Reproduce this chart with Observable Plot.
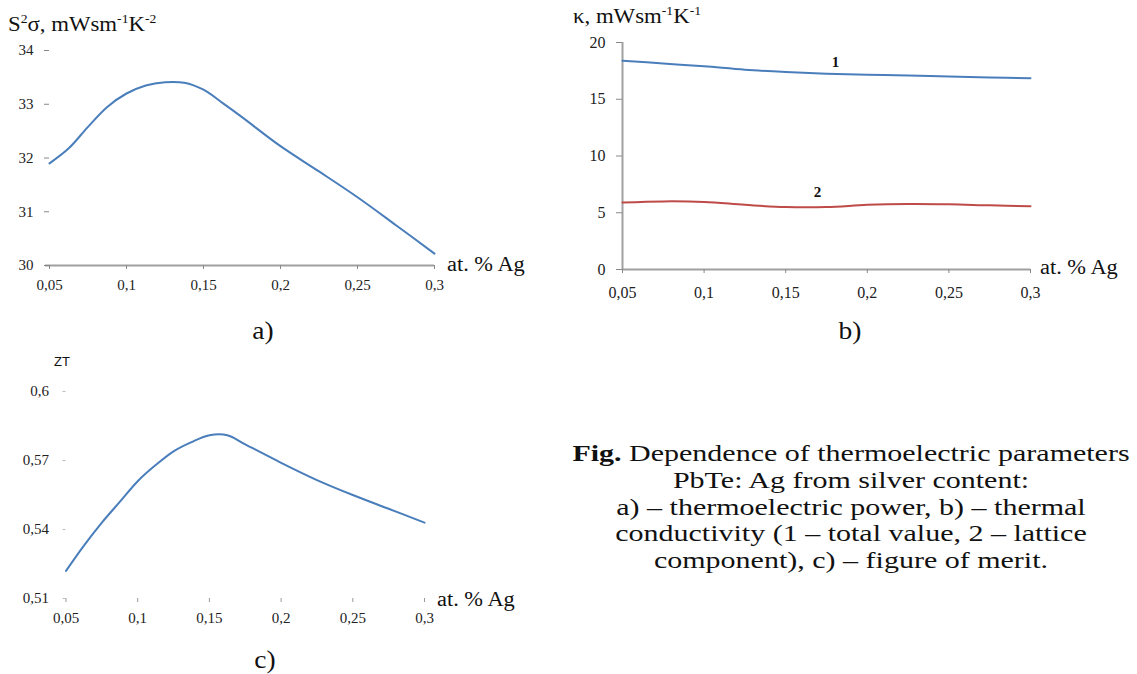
<!DOCTYPE html>
<html>
<head>
<meta charset="utf-8">
<script src="https://cdn.jsdelivr.net/npm/d3@7"></script>
<script src="https://cdn.jsdelivr.net/npm/@observablehq/plot@0.6"></script>
<style>
  body { margin: 0; background: #fff; }
  #root { position: relative; width: 1137px; height: 674px; overflow: hidden; font-family: "Liberation Serif", "Times New Roman", serif; color: #111; }
  .abs { position: absolute; white-space: nowrap; }
  .plot { position: absolute; }
  .ylab { font-size: 20px; transform: scaleX(1.14); transform-origin: left center; }
  .xlab { font-size: 20px; transform: scaleX(1.12); transform-origin: left center; }
  .panel { font-size: 25px; transform: translate(-50%, -50%) scaleX(1.1); }
  #caption { left: 571px; width: 560px; top: 440px; font-size: 24px; line-height: 26.8px; text-align: center; transform: scaleX(1.25); transform-origin: center; white-space: normal; }
</style>
</head>
<body>
<div id="root"></div>
<script>
// ---- data ----
const agA = [0.05, 0.0625, 0.075, 0.0875, 0.1, 0.1125, 0.125, 0.1375, 0.15, 0.1625, 0.175, 0.2, 0.225, 0.25, 0.275, 0.3];
const powerFactor = [31.90, 32.18, 32.58, 32.95, 33.2, 33.35, 33.41, 33.4, 33.27, 33.02, 32.76, 32.22, 31.75, 31.27, 30.75, 30.22];

const agB = [0.05, 0.075, 0.1, 0.125, 0.15, 0.175, 0.2, 0.225, 0.25, 0.275, 0.3];
const kappaTotal = [18.4, 18.15, 17.9, 17.6, 17.4, 17.25, 17.15, 17.1, 17.0, 16.92, 16.85];
const kappaLattice = [5.9, 6.0, 5.95, 5.7, 5.5, 5.5, 5.7, 5.78, 5.75, 5.65, 5.57];

const agC = [0.05, 0.0625, 0.075, 0.0875, 0.1, 0.1125, 0.125, 0.1375, 0.15, 0.1625, 0.175, 0.2, 0.225, 0.25, 0.275, 0.3];
const figureOfMerit = [0.522, 0.533, 0.543, 0.552, 0.561, 0.568, 0.574, 0.578, 0.581, 0.581, 0.577, 0.569, 0.5615, 0.555, 0.549, 0.543];

const xTicks = [0.05, 0.1, 0.15, 0.2, 0.25, 0.3];
const yTicksA = [30, 31, 32, 33, 34];
const yTicksB = [0, 5, 10, 15, 20];
const yTicksC = [0.51, 0.54, 0.57, 0.6];

const curveNames = ["1", "2"];
const curveLabelAg = [0.1805, 0.1695];
const curveLabelKappa = [18.3, 6.8];

// ---- helpers ----
const comma = d => String(d).replace(".", ",");
const blue = "#4a7ebb", red = "#be4b48", axisGray = "#a0a0a0";
const root = document.getElementById("root");
function place(node, left, top) {
  node.classList.add("plot");
  node.style.left = left + "px";
  node.style.top = top + "px";
  root.appendChild(node);
}
function text(html, cls, left, top) {
  const d = document.createElement("div");
  d.className = "abs " + cls;
  d.style.left = left + "px";
  d.style.top = top + "px";
  d.innerHTML = html;
  root.appendChild(d);
}
const baseStyle = { fontFamily: "Liberation Serif, serif", fontSize: "15px", color: "#222", background: "transparent", overflow: "visible" };

// ---- panel a ----
const tableA = agA.map((x, i) => ({ x, y: powerFactor[i] }));
const plotA = Plot.plot({
  width: 560, height: 300,
  marginLeft: 49, marginRight: 126, marginTop: 50, marginBottom: 35,
  style: baseStyle,
  x: { domain: [0.05, 0.3] },
  y: { domain: [30, 34] },
  marks: [
    Plot.ruleY([30], { stroke: axisGray, strokeWidth: 2, insetLeft: -4 }),
    Plot.axisX({ ticks: xTicks, tickFormat: comma, tickSize: 4, tickPadding: 10, stroke: "#888", label: null }),
    Plot.axisY({ ticks: yTicksA, tickFormat: d => String(d), tickSize: 5, tickPadding: 11, stroke: "#888", label: null }),
    Plot.line(tableA, { x: "x", y: "y", stroke: blue, strokeWidth: 2, curve: "catmull-rom" })
  ]
});
place(plotA, 0, 0);

// ---- panel b ----
const tableB = agB.flatMap((x, i) => [
  { x, y: kappaTotal[i], s: "total" },
  { x, y: kappaLattice[i], s: "lattice" }
]);
const labelsB = curveNames.map((t, i) => ({ t, x: curveLabelAg[i], y: curveLabelKappa[i] }));
const plotB = Plot.plot({
  width: 597, height: 310,
  marginLeft: 82, marginRight: 107, marginTop: 42, marginBottom: 41,
  style: { ...baseStyle, fontSize: "16px" },
  x: { domain: [0.05, 0.3] },
  y: { domain: [0, 20] },
  color: { domain: ["total", "lattice"], range: [blue, red] },
  marks: [
    Plot.ruleY([0], { stroke: axisGray, strokeWidth: 2 }),
    Plot.ruleX([0.05], { stroke: axisGray, strokeWidth: 2 }),
    Plot.axisX({ ticks: xTicks, tickFormat: comma, tickSize: 4, tickPadding: 13, stroke: "#888", label: null }),
    Plot.axisY({ ticks: yTicksB, tickFormat: d => String(d), tickSize: 6, tickPadding: 11, stroke: "#888", label: null }),
    Plot.line(tableB, { x: "x", y: "y", z: "s", stroke: "s", strokeWidth: 2, curve: "catmull-rom" }),
    Plot.text(labelsB, { x: "x", y: "y", text: "t", fontSize: 15, fontWeight: "bold", fill: "#111" })
  ]
});
place(plotB, 540, 0);

// ---- panel c ----
const tableC = agC.map((x, i) => ({ x, y: figureOfMerit[i] }));
const plotC = Plot.plot({
  width: 560, height: 310,
  marginLeft: 65.5, marginRight: 136, marginTop: 61, marginBottom: 42,
  style: baseStyle,
  x: { domain: [0.05, 0.3] },
  y: { domain: [0.51, 0.6] },
  marks: [
    Plot.axisX({ ticks: xTicks, tickFormat: comma, tickSize: 4, tickPadding: 10, stroke: "#999", label: null }),
    Plot.axisY({ ticks: yTicksC, tickFormat: comma, tickSize: 3, tickPadding: 14, stroke: "#bbb", label: null }),
    Plot.line(tableC, { x: "x", y: "y", stroke: blue, strokeWidth: 2, curve: "catmull-rom" })
  ]
});
place(plotC, 0, 330);

// ---- axis titles, panel letters, caption ----
text("S<sup style='font-size:12px'>2</sup>σ, mWsm<sup style='font-size:12px'>-1</sup>K<sup style='font-size:12px'>-2</sup>", "ylab", 8, 12);
text("κ, mWsm<sup style='font-size:12px'>-1</sup>K<sup style='font-size:12px'>-1</sup>", "ylab", 573, 4);
text("<span style='font-family:Liberation Sans,sans-serif;font-size:13px'>ZT</span>", "abs", 54, 352);
text("at. % Ag", "xlab", 447, 253);
text("at. % Ag", "xlab", 1040, 256);
text("at. % Ag", "xlab", 437, 588);
text("a)", "panel", 263, 331);
text("b)", "panel", 850, 331);
text("c)", "panel", 265, 660);

const cap = document.createElement("div");
cap.id = "caption";
cap.className = "abs";
cap.innerHTML = "<b>Fig.</b> Dependence of thermoelectric parameters<br>PbTe: Ag from silver content:<br>a) – thermoelectric power, b) – thermal<br>conductivity (1 – total value, 2 – lattice<br>component), c) – figure of merit.";
root.appendChild(cap);
</script>
</body>
</html>
